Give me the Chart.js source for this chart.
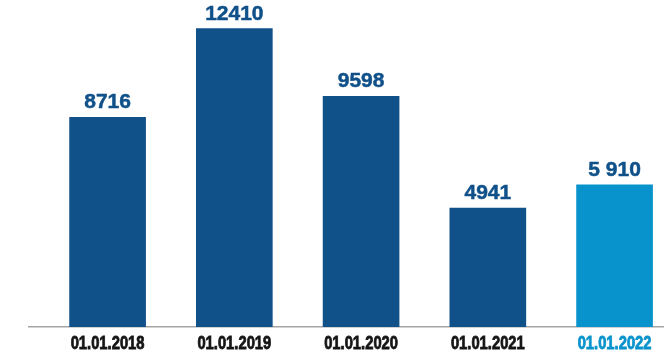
<!DOCTYPE html>
<html>
<head>
<meta charset="utf-8">
<script src="https://cdn.jsdelivr.net/npm/chart.js@4.4.1/dist/chart.umd.min.js"></script>
<style>
  html, body { margin: 0; padding: 0; background: #fff; overflow: hidden; }
  #wrap { position: relative; width: 664px; height: 351px; }
</style>
</head>
<body>
<div id="wrap"><canvas id="myChart"></canvas></div>
<script>
// headcount on the first of January each year
const dates = ["01.01.2018", "01.01.2019", "01.01.2020", "01.01.2021", "01.01.2022"];
const counts = [8716, 12410, 9598, 4941, 5910];
const current = 4; // last date is highlighted

const darkBlue = "#10518a";
const lightBlue = "#0993cc";

function fmt(v, i) {
  // only the highlighted figure uses a grouped format
  if (i === current) return String(v).replace(/\B(?=(\d{3})+(?!\d))/g, " ");
  return String(v);
}

// numbers above the bars
const valueLabels = {
  id: "valueLabels",
  afterDatasetsDraw(chart) {
    const ctx = chart.ctx;
    const meta = chart.getDatasetMeta(0);
    ctx.save();
    ctx.font = "bold 21px 'Liberation Sans', Arial, sans-serif";
    ctx.fillStyle = darkBlue;
    ctx.strokeStyle = darkBlue;
    ctx.lineWidth = 0.5;
    ctx.textAlign = "center";
    ctx.textBaseline = "alphabetic";
    meta.data.forEach((bar, i) => {
      const t = fmt(counts[i], i);
      ctx.fillText(t, bar.x, bar.y - 9);
      ctx.strokeText(t, bar.x, bar.y - 9);
    });
    ctx.restore();
  }
};

// date labels under the axis, squeezed to a narrow face
const dateLabels = {
  id: "dateLabels",
  afterDraw(chart) {
    const ctx = chart.ctx;
    const xs = chart.scales.x;
    const y = chart.chartArea.bottom + 22;
    ctx.save();
    ctx.font = "bold 18px 'Liberation Sans', Arial, sans-serif";
    ctx.textAlign = "center";
    ctx.textBaseline = "alphabetic";
    ctx.lineWidth = 0.8;
    dates.forEach((d, i) => {
      const x = xs.getPixelForValue(i);
      const c = i === current ? lightBlue : "#151515";
      ctx.save();
      ctx.translate(x, y);
      ctx.scale(0.82, 1);
      ctx.fillStyle = c;
      ctx.strokeStyle = c;
      ctx.fillText(d, 0, 0);
      ctx.strokeText(d, 0, 0);
      ctx.restore();
    });
    ctx.restore();
  }
};

function initChart(target) {
  const data = {
    datasets: [
      {
        data: counts.map((v, i) => ({ x: i, y: v })),
        backgroundColor: counts.map((v, i) => (i === current ? lightBlue : darkBlue)),
        borderWidth: 0,
        barThickness: 76,
      },
    ],
  };

  const config = {
    type: "bar",
    data: data,
    options: {
      responsive: true,
      maintainAspectRatio: false,
      animation: false,
      layout: { padding: { top: 0, left: 29, right: 0, bottom: 24 } },
      plugins: { legend: { display: false }, tooltip: { enabled: false } },
      scales: {
        x: {
          type: "linear",
          offset: false,
          min: -0.62,
          max: 4.39,
          grid: { display: false, drawTicks: false },
          border: { display: true, color: "#a5a5a5", width: 1.5 },
          ticks: { display: false },
        },
        y: {
          display: false,
          min: 0,
          max: 13600,
        },
      },
    },
    plugins: [valueLabels, dateLabels],
  };

  return new Chart(target, config);
}

document.addEventListener("DOMContentLoaded", () => initChart(document.querySelector("#myChart")));
</script>
</body>
</html>
